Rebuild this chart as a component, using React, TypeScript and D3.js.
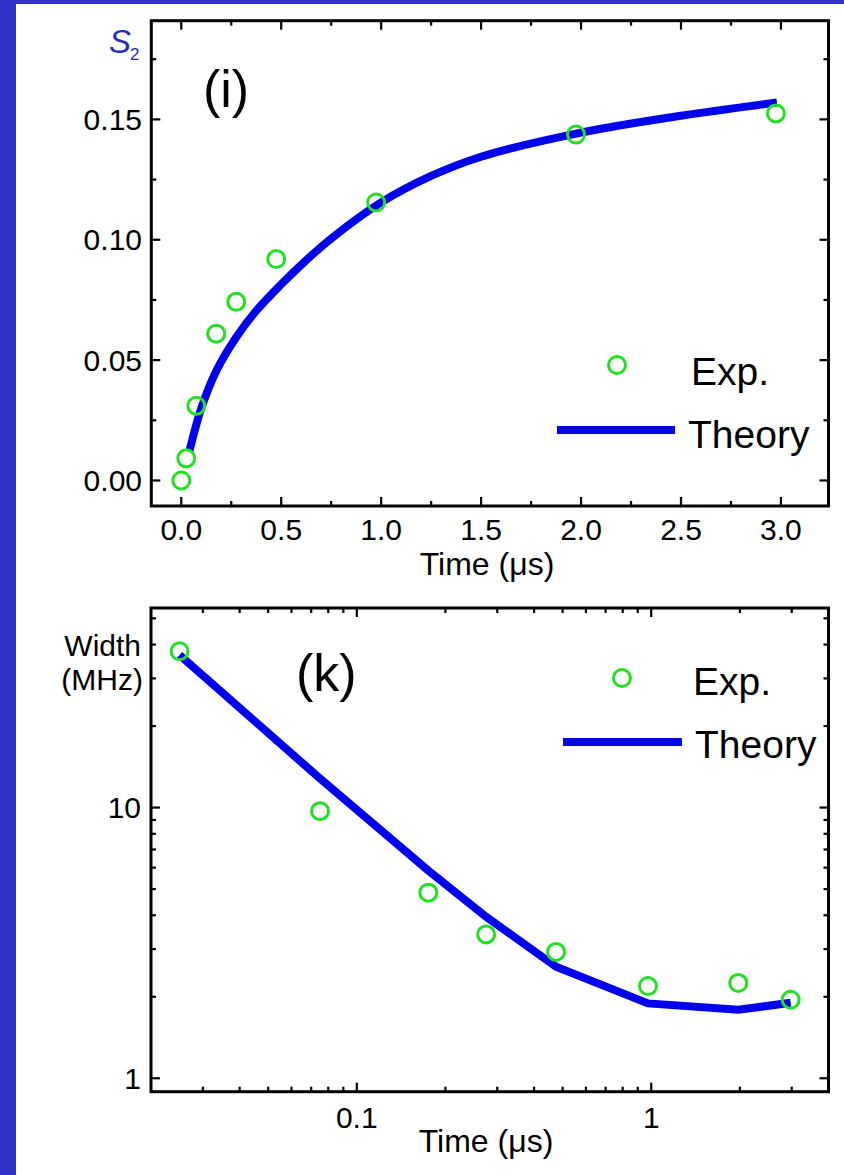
import React from "react";
import * as d3 from "d3";

// ---------- data ----------
// Panel (i): S2 vs time
const timeExpTop = [0, 0.025, 0.075, 0.175, 0.275, 0.475, 0.975, 1.975, 2.975];
const s2Exp = [0, 0.0092, 0.031, 0.061, 0.0742, 0.092, 0.1155, 0.1437, 0.1525];
const timeTheoryTop = [0.04, 0.1, 0.175, 0.275, 0.375, 0.5, 0.625, 0.75, 1.0, 1.25, 1.5, 2.0, 2.5, 2.98];
const s2Theory = [0.012, 0.03, 0.0455, 0.0595, 0.0705, 0.0815, 0.0915, 0.1005, 0.1155, 0.1265, 0.1345, 0.1445, 0.1515, 0.157];
const xTicksTop = [0, 0.5, 1.0, 1.5, 2.0, 2.5, 3.0];
const xMinorTop = [0.25, 0.75, 1.25, 1.75, 2.25, 2.75];
const yTicksTop = [0, 0.05, 0.1, 0.15];
const yMinorTop = [0.025, 0.075, 0.125, 0.175];

// Panel (k): width vs time (log-log)
const timeBottom = [0.025, 0.075, 0.175, 0.275, 0.475, 0.975, 1.975, 2.975];
const widthExp = [37.8, 9.7, 4.85, 3.4, 2.93, 2.19, 2.25, 1.95];
const widthTheory = [36.6, 12.8, 5.85, 3.95, 2.58, 1.89, 1.79, 1.9];
const xTicksBottom = [0.1, 1];
const xMinorBottom = [0.03, 0.04, 0.05, 0.06, 0.07, 0.08, 0.09, 0.2, 0.3, 0.4, 0.5, 0.6, 0.7, 0.8, 0.9, 2, 3];
const yTicksBottom = [1, 10];
const yMinorBottom = [2, 3, 4, 5, 6, 7, 8, 9, 20, 30, 40, 50];

const FONT = "'Liberation Sans', Arial, Helvetica, sans-serif";
const LINE = "#0000ee";
const GREEN = "#22e022";
const BG = "#3333cc";

type Sc = (v: number) => number;

function Frame({ x, y, left, right, top, bottom, xMaj, xMin, yMaj, yMin }: {
  x: Sc; y: Sc; left: number; right: number; top: number; bottom: number;
  xMaj: number[]; xMin: number[]; yMaj: number[]; yMin: number[];
}) {
  const M = 9, m = 5;
  const segs: JSX.Element[] = [];
  let k = 0;
  xMaj.forEach((v) => {
    const px = x(v);
    segs.push(<line key={k++} x1={px} x2={px} y1={bottom} y2={bottom - M} />);
    segs.push(<line key={k++} x1={px} x2={px} y1={top} y2={top + M} />);
  });
  xMin.forEach((v) => {
    const px = x(v);
    segs.push(<line key={k++} x1={px} x2={px} y1={bottom} y2={bottom - m} />);
    segs.push(<line key={k++} x1={px} x2={px} y1={top} y2={top + m} />);
  });
  yMaj.forEach((v) => {
    const py = y(v);
    segs.push(<line key={k++} x1={left} x2={left + M} y1={py} y2={py} />);
    segs.push(<line key={k++} x1={right} x2={right - M} y1={py} y2={py} />);
  });
  yMin.forEach((v) => {
    const py = y(v);
    segs.push(<line key={k++} x1={left} x2={left + m} y1={py} y2={py} />);
    segs.push(<line key={k++} x1={right} x2={right - m} y1={py} y2={py} />);
  });
  return (
    <g stroke="#000" strokeWidth={2.2} fill="none">
      {segs}
      <rect x={left} y={top} width={right - left} height={bottom - top} strokeWidth={3} />
    </g>
  );
}

export default function App() {
  // top panel geometry
  const tL = 151.3, tR = 828.5, tT = 20.7, tB = 506;
  const xT = d3.scaleLinear().domain([-0.15, 3.238]).range([tL, tR]);
  const yT = d3.scaleLinear().domain([-0.0106, 0.191]).range([tB, tT]);
  // bottom panel geometry
  const bL = 151, bR = 828.5, bT = 608, bB = 1091.7;
  const xB = d3.scaleLog().domain([0.02, 4]).range([bL, bR]);
  const yB = d3.scaleLog().domain([0.892, 54.6]).range([bB, bT]);

  const topLine = d3.line<number>()
    .x((_, i) => xT(timeTheoryTop[i]))
    .y((d) => yT(d))
    .curve(d3.curveCatmullRom.alpha(0.5))(s2Theory) || "";
  const botLine = d3.line<number>()
    .x((_, i) => xB(timeBottom[i]))
    .y((d) => yB(d))(widthTheory) || "";

  const fmt2 = d3.format(".2f");
  const fmt1 = d3.format(".1f");

  return (
    <div style={{ position: "absolute", left: 0, top: 0 }}>
      <svg width={844} height={1175} style={{ display: "block" }} fontFamily={FONT}>
        <rect x={0} y={0} width={844} height={1175} fill={BG} />
        <rect x={16} y={4} width={828} height={1171} fill="#fff" />

        {/* ---------- panel (i) ---------- */}
        <path d={topLine} fill="none" stroke={LINE} strokeWidth={8} />
        {s2Exp.map((v, i) => (
          <circle key={i} cx={xT(timeExpTop[i])} cy={yT(v)} r={8.5} fill="none" stroke={GREEN} strokeWidth={3} />
        ))}
        <Frame x={xT} y={yT} left={tL} right={tR} top={tT} bottom={tB}
          xMaj={xTicksTop} xMin={xMinorTop} yMaj={yTicksTop} yMin={yMinorTop} />
        <g fontSize={30} fill="#000">
          {xTicksTop.map((v) => (
            <text key={v} x={xT(v)} y={540} textAnchor="middle">{fmt1(v)}</text>
          ))}
          {yTicksTop.map((v) => (
            <text key={v} x={142} y={yT(v) + 10.5} textAnchor="end">{fmt2(v)}</text>
          ))}
        </g>
        <text x={487} y={575} textAnchor="middle" fontSize={32}>Time (μs)</text>
        <text x={109} y={53} fill="#2a2abb" fontSize={33} fontStyle="italic">S</text>
        <text x={130} y={60} fill="#2a2abb" fontSize={17}>2</text>
        <text x={203} y={107} fontSize={52}>(i)</text>
        {/* legend */}
        <circle cx={617} cy={365} r={8.5} fill="none" stroke={GREEN} strokeWidth={3} />
        <text x={691} y={385} fontSize={39}>Exp.</text>
        <line x1={557} x2={675} y1={430} y2={430} stroke={LINE} strokeWidth={8} />
        <text x={688} y={448} fontSize={39}>Theory</text>

        {/* ---------- panel (k) ---------- */}
        <path d={botLine} fill="none" stroke={LINE} strokeWidth={8} strokeLinejoin="miter" />
        {widthExp.map((v, i) => (
          <circle key={i} cx={xB(timeBottom[i])} cy={yB(v)} r={8.5} fill="none" stroke={GREEN} strokeWidth={3} />
        ))}
        <Frame x={xB} y={yB} left={bL} right={bR} top={bT} bottom={bB}
          xMaj={xTicksBottom} xMin={xMinorBottom} yMaj={yTicksBottom} yMin={yMinorBottom} />
        <g fontSize={30} fill="#000">
          {xTicksBottom.map((v) => (
            <text key={v} x={xB(v)} y={1128} textAnchor="middle">{String(v)}</text>
          ))}
          {yTicksBottom.map((v) => (
            <text key={v} x={141} y={yB(v) + 10.5} textAnchor="end">{String(v)}</text>
          ))}
        </g>
        <text x={486} y={1152} textAnchor="middle" fontSize={32}>Time (μs)</text>
        <text x={141} y={656} textAnchor="end" fontSize={30}>Width</text>
        <text x={143} y={690} textAnchor="end" fontSize={30}>(MHz)</text>
        <text x={296} y={691} fontSize={52}>(k)</text>
        {/* legend */}
        <circle cx={622} cy={678} r={8.5} fill="none" stroke={GREEN} strokeWidth={3} />
        <text x={693} y={695} fontSize={39}>Exp.</text>
        <line x1={563} x2={682} y1={742} y2={742} stroke={LINE} strokeWidth={8} />
        <text x={695} y={758} fontSize={39}>Theory</text>
      </svg>
    </div>
  );
}
